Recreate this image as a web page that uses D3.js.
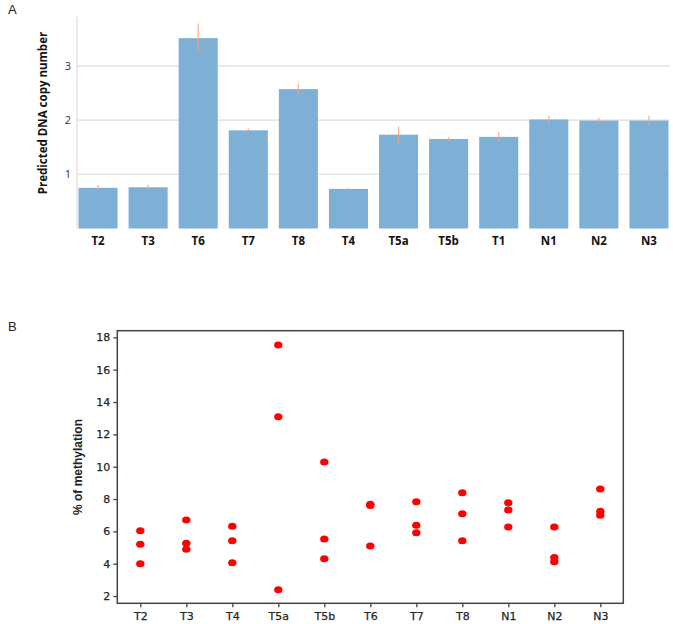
<!DOCTYPE html>
<html><head><meta charset="utf-8">
<script src="https://cdn.jsdelivr.net/npm/d3@7"></script>
<style>body{margin:0;background:#fff}</style>
</head><body>
<svg id="c" width="673" height="624"></svg>
<script>
// Panel A data
const copyCategories = ["T2","T3","T6","T7","T8","T4","T5a","T5b","T1","N1","N2","N3"];
const copyValues     = [0.75,0.76,3.51,1.81,2.57,0.73,1.73,1.65,1.69,2.01,1.99,1.99];
const copyErrors     = [0.05,0.05,0.27,0.04,0.10,0.02,0.15,0.04,0.09,0.07,0.05,0.09];
const copyTicks      = [1,2,3];

// Panel B data
const methCategories = ["T2","T3","T4","T5a","T5b","T6","T7","T8","N1","N2","N3"];
const methValues = [
  [6.04,5.20,4.00],
  [6.70,5.26,4.90],
  [6.31,5.42,4.06],
  [17.52,13.09,2.39],
  [10.29,5.52,4.31],
  [7.68,7.60,5.09],
  [7.83,6.37,5.92],
  [8.39,7.09,5.42],
  [7.77,7.32,6.27],
  [6.27,4.39,4.12],
  [8.62,7.24,6.99]
];
const methTicks = [2,4,6,8,10,12,14,16,18];

const svg = d3.select("#c");

// ---------- Panel A ----------
svg.append("text").attr("x",8).attr("y",14).text("A")
  .attr("font-family","Liberation Sans, Arial").attr("font-size",13).attr("fill","#222");

const xA = d3.scaleBand().domain(copyCategories).range([73,674]).paddingInner(0.22).paddingOuter(0.11);
const yA = d3.scaleLinear().domain([0,3.9]).range([228.5,17]);

const gA = svg.append("g");
gA.selectAll("line.grid").data(copyTicks).join("line")
  .attr("x1",77).attr("x2",670).attr("y1",d=>yA(d)).attr("y2",d=>yA(d))
  .attr("stroke","#dcdcdc").attr("stroke-width",1.2);
gA.append("line").attr("x1",77).attr("x2",77).attr("y1",yA(3.9)).attr("y2",yA(0))
  .attr("stroke","#e8cfcf").attr("stroke-width",1);

gA.selectAll("rect").data(copyCategories).join("rect")
  .attr("x",d=>xA(d)).attr("width",xA.bandwidth())
  .attr("y",(d,i)=>yA(copyValues[i])).attr("height",(d,i)=>yA(0)-yA(copyValues[i]))
  .attr("fill","#7eb0d5");

gA.selectAll("line.err").data(copyCategories).join("line")
  .attr("x1",d=>xA(d)+xA.bandwidth()/2).attr("x2",d=>xA(d)+xA.bandwidth()/2)
  .attr("y1",(d,i)=>yA(copyValues[i]+copyErrors[i])).attr("y2",(d,i)=>yA(copyValues[i]-copyErrors[i]))
  .attr("stroke","#f4a08a").attr("stroke-opacity",0.8).attr("stroke-width",1.3);

gA.selectAll("text.yt").data(copyTicks).join("text")
  .attr("x",71).attr("y",d=>yA(d)+4).attr("text-anchor","end").text(d=>d)
  .attr("font-family","Open Sans, sans-serif").attr("font-size",11).attr("fill","#333");

gA.selectAll("text.xt").data(copyCategories).join("text")
  .attr("x",d=>xA(d)+xA.bandwidth()/2).attr("y",245).attr("text-anchor","middle").text(d=>d)
  .attr("font-family","Open Sans, sans-serif").attr("font-weight","bold").attr("font-size",11.5).attr("fill","#111");

gA.append("text").attr("transform","translate(47,113) rotate(-90)").attr("text-anchor","middle")
  .text("Predicted DNA copy number")
  .attr("font-family","Open Sans, sans-serif").attr("font-weight","bold").attr("font-size",11.5).attr("fill","#111");

// ---------- Panel B ----------
svg.append("text").attr("x",8).attr("y",331).text("B")
  .attr("font-family","Liberation Sans, Arial").attr("font-size",13).attr("fill","#222");

const bLeft=117.3, bRight=623.3, bTop=330.7, bBottom=603.3;
const xB = d3.scalePoint().domain(methCategories).range([bLeft,bRight]).padding(0.5);
const yB = d3.scaleLinear().domain([1.55,18.41]).range([bBottom,bTop]);

const gB = svg.append("g");
gB.append("rect").attr("x",bLeft).attr("y",bTop).attr("width",bRight-bLeft).attr("height",bBottom-bTop)
  .attr("fill","none").attr("stroke","#444").attr("stroke-width",1.5);

const yAxis = d3.axisLeft(yB).tickValues(methTicks).tickSize(4).tickPadding(3);
const gy = gB.append("g").attr("transform",`translate(${bLeft},0)`).call(yAxis);
gy.select(".domain").remove();
gy.selectAll("line").attr("stroke","#444").attr("stroke-width",1.3);
gy.selectAll("text").attr("font-family","DejaVu Sans, sans-serif").attr("font-size",11).attr("fill","#262626")
  .attr("stroke","#262626").attr("stroke-width",0.25);

const xAxis = d3.axisBottom(xB).tickSize(4).tickPadding(5);
const gx = gB.append("g").attr("transform",`translate(0,${bBottom})`).call(xAxis);
gx.select(".domain").remove();
gx.selectAll("line").attr("stroke","#444").attr("stroke-width",1.3);
gx.selectAll("text").attr("font-family","DejaVu Sans, sans-serif").attr("font-size",11).attr("fill","#262626")
  .attr("stroke","#262626").attr("stroke-width",0.25);

const pts = [];
methCategories.forEach((c,i)=>methValues[i].forEach(v=>pts.push({c,v})));
gB.selectAll("ellipse").data(pts).join("ellipse")
  .attr("cx",d=>xB(d.c)).attr("cy",d=>yB(d.v)).attr("rx",4.2).attr("ry",3.5)
  .attr("fill","#f00");

gB.append("text").attr("transform","translate(82,467) rotate(-90)").attr("text-anchor","middle")
  .text("% of methylation")
  .attr("font-family","Liberation Sans, Arial, sans-serif").attr("font-weight","bold").attr("font-size",12).attr("fill","#222");
</script>
</body></html>
